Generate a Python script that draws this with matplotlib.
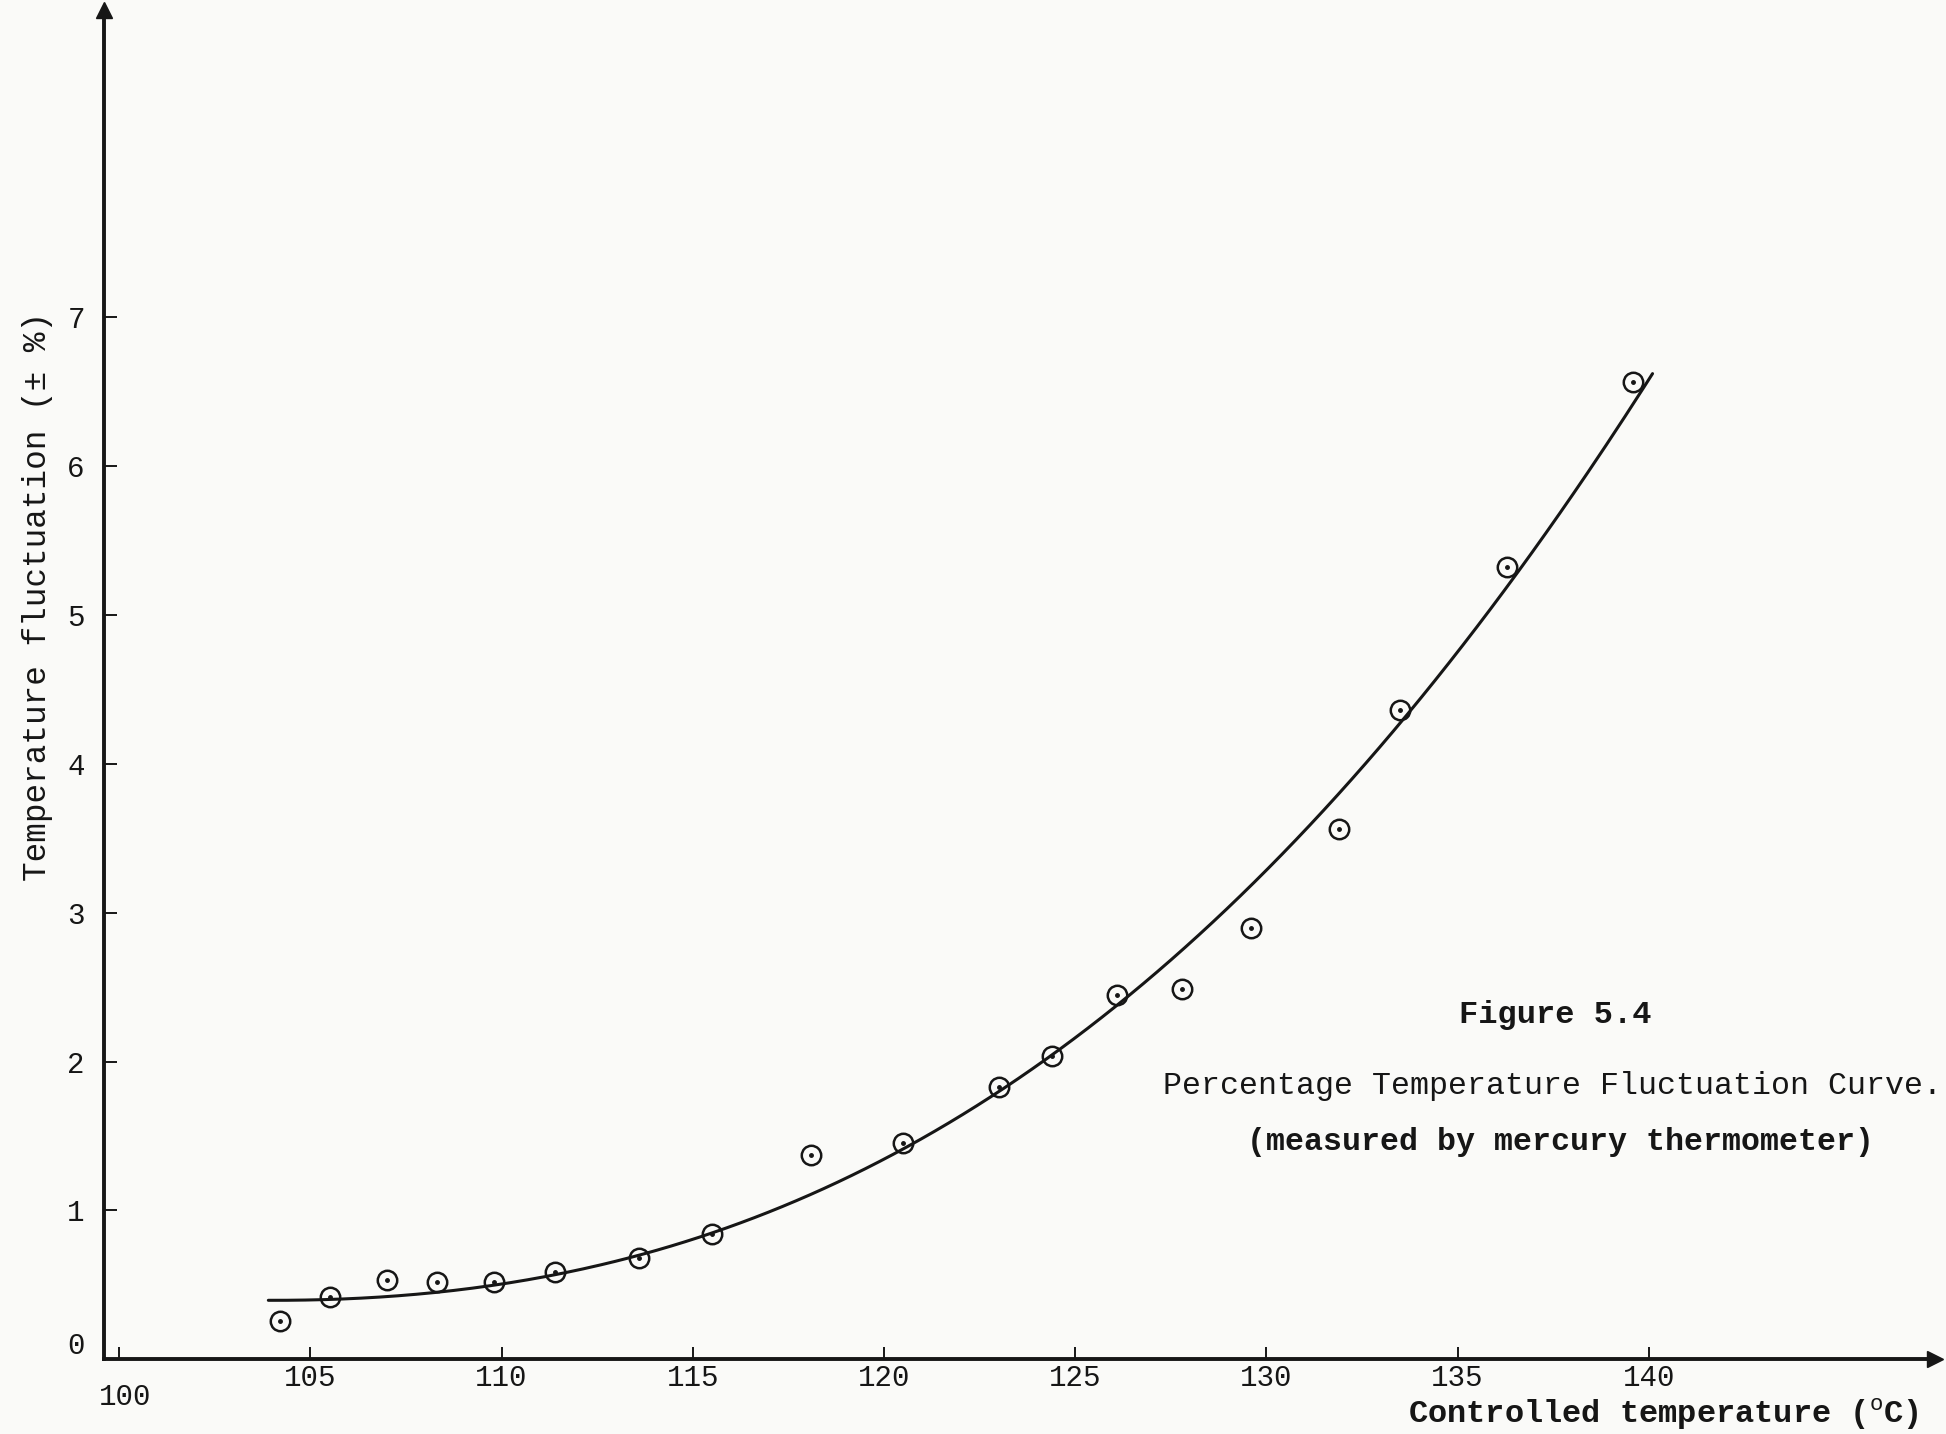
import matplotlib
matplotlib.use("Agg")
import matplotlib.pyplot as plt
import matplotlib.transforms as mtransforms
import numpy as np

plt.rcParams['font.family'] = ['Liberation Mono', 'DejaVu Sans Mono']
plt.rcParams['mathtext.fontset'] = 'custom'
plt.rcParams['mathtext.rm'] = 'Liberation Mono'

# measured points (controlled temperature degC, fluctuation +-%)
temp_pts = [104.2, 105.5, 107.0, 108.3, 109.8, 111.4, 113.6, 115.5, 118.1, 120.5,
            123.0, 124.4, 126.1, 127.8, 129.6, 131.9, 133.5, 136.3, 139.6]
fluct_pts = [0.26, 0.42, 0.53, 0.52, 0.52, 0.59, 0.68, 0.84, 1.37, 1.45,
             1.83, 2.04, 2.45, 2.49, 2.90, 3.56, 4.36, 5.32, 6.56]

# hand-drawn fitted curve
curve_x = [103.9, 106.6, 109.9, 111.4, 113.6, 115.5, 118.1, 120.5, 123.0, 124.4,
           126.1, 128.1, 129.6, 131.9, 133.5, 136.3, 138.1, 140.1]
curve_y = [0.40, 0.42, 0.50, 0.57, 0.68, 0.82, 1.12, 1.45, 1.83, 2.04,
           2.42, 2.82, 3.14, 3.71, 4.21, 5.29, 5.96, 6.52]

x_ticks = [100, 105, 110, 115, 120, 125, 130, 135, 140]
x_ticklabels = ['100', '105', '110', '115', '120', '125', '130', '135', '140']
y_ticks = [0, 1, 2, 3, 4, 5, 6, 7]
y_ticklabels = ['0', '1', '2', '3', '4', '5', '6', '7']

ink = '#161616'
paper = '#fafaf8'

fig = plt.figure(figsize=(19.46, 14.34), dpi=100, facecolor=paper)
ax = fig.add_axes([0.0536, 0.052, 0.941, 0.941])
ax.set_facecolor(paper)

# smooth the hand-drawn curve through its read points
cx = np.array(curve_x)
cy = np.array(curve_y)
coef = np.polyfit(cx, cy, 4)
xs = np.linspace(cx[0], cx[-1], 300)
ax.plot(xs, np.polyval(coef, xs), color=ink, lw=2.2, solid_capstyle='round')

ax.plot(temp_pts, fluct_pts, linestyle='none', marker='o', ms=14, mfc='none',
        mec=ink, mew=1.8)
ax.plot(temp_pts, fluct_pts, linestyle='none', marker='o', ms=2.5, mfc=ink,
        mec=ink)

ax.set_xlim(99.61, 147.5)
ax.set_ylim(0, 9.06)

for s in ['top', 'right']:
    ax.spines[s].set_visible(False)
for s in ['left', 'bottom']:
    ax.spines[s].set_linewidth(2.8)
    ax.spines[s].set_color(ink)

ax.set_xticks(x_ticks)
ax.set_xticklabels(x_ticklabels)
ax.set_yticks(y_ticks)
ax.set_yticklabels(y_ticklabels)
ax.tick_params(axis='both', direction='in', length=9, width=1.4, colors=ink,
               labelsize=21)
ax.tick_params(axis='y', pad=14)
ax.tick_params(axis='x', pad=3)

# the "0" sits a little above the axis, the "100" a little lower, as typed
ylab0 = ax.yaxis.get_major_ticks()[0].label1
ylab0.set_transform(ylab0.get_transform() +
                    mtransforms.ScaledTranslation(0, 12 / 72, fig.dpi_scale_trans))
xlab0 = ax.xaxis.get_major_ticks()[0].label1
xlab0.set_transform(xlab0.get_transform() +
                    mtransforms.ScaledTranslation(4 / 72, -14 / 72, fig.dpi_scale_trans))

# axis arrows
ax.plot([0], [1], marker='^', ms=12, color=ink, transform=ax.transAxes, clip_on=False)
ax.plot([1], [0], marker='>', ms=12, color=ink, transform=ax.transAxes, clip_on=False)

fig.text(0.0191, 0.5844, 'Temperature fluctuation (± %)', rotation=90,
         ha='center', va='center', fontsize=23.5, color=ink)
fig.text(0.8546, 0.0135, 'Controlled temperature ($^{\\mathrm{o}}$C)',
         ha='center', va='center', fontsize=23, color=ink, fontweight='bold')

fig.text(0.799, 0.292, 'Figure 5.4', ha='center', va='center', fontsize=23,
         fontweight='bold', color=ink)
fig.text(0.798, 0.2424, 'Percentage Temperature Fluctuation Curve.', ha='center',
         va='center', fontsize=22.8, color=ink)
fig.text(0.8017, 0.2035, '(measured by mercury thermometer)', ha='center',
         va='center', fontsize=22.8, fontweight='bold', color=ink)

fig.savefig('out.png', dpi=100, facecolor=paper)
